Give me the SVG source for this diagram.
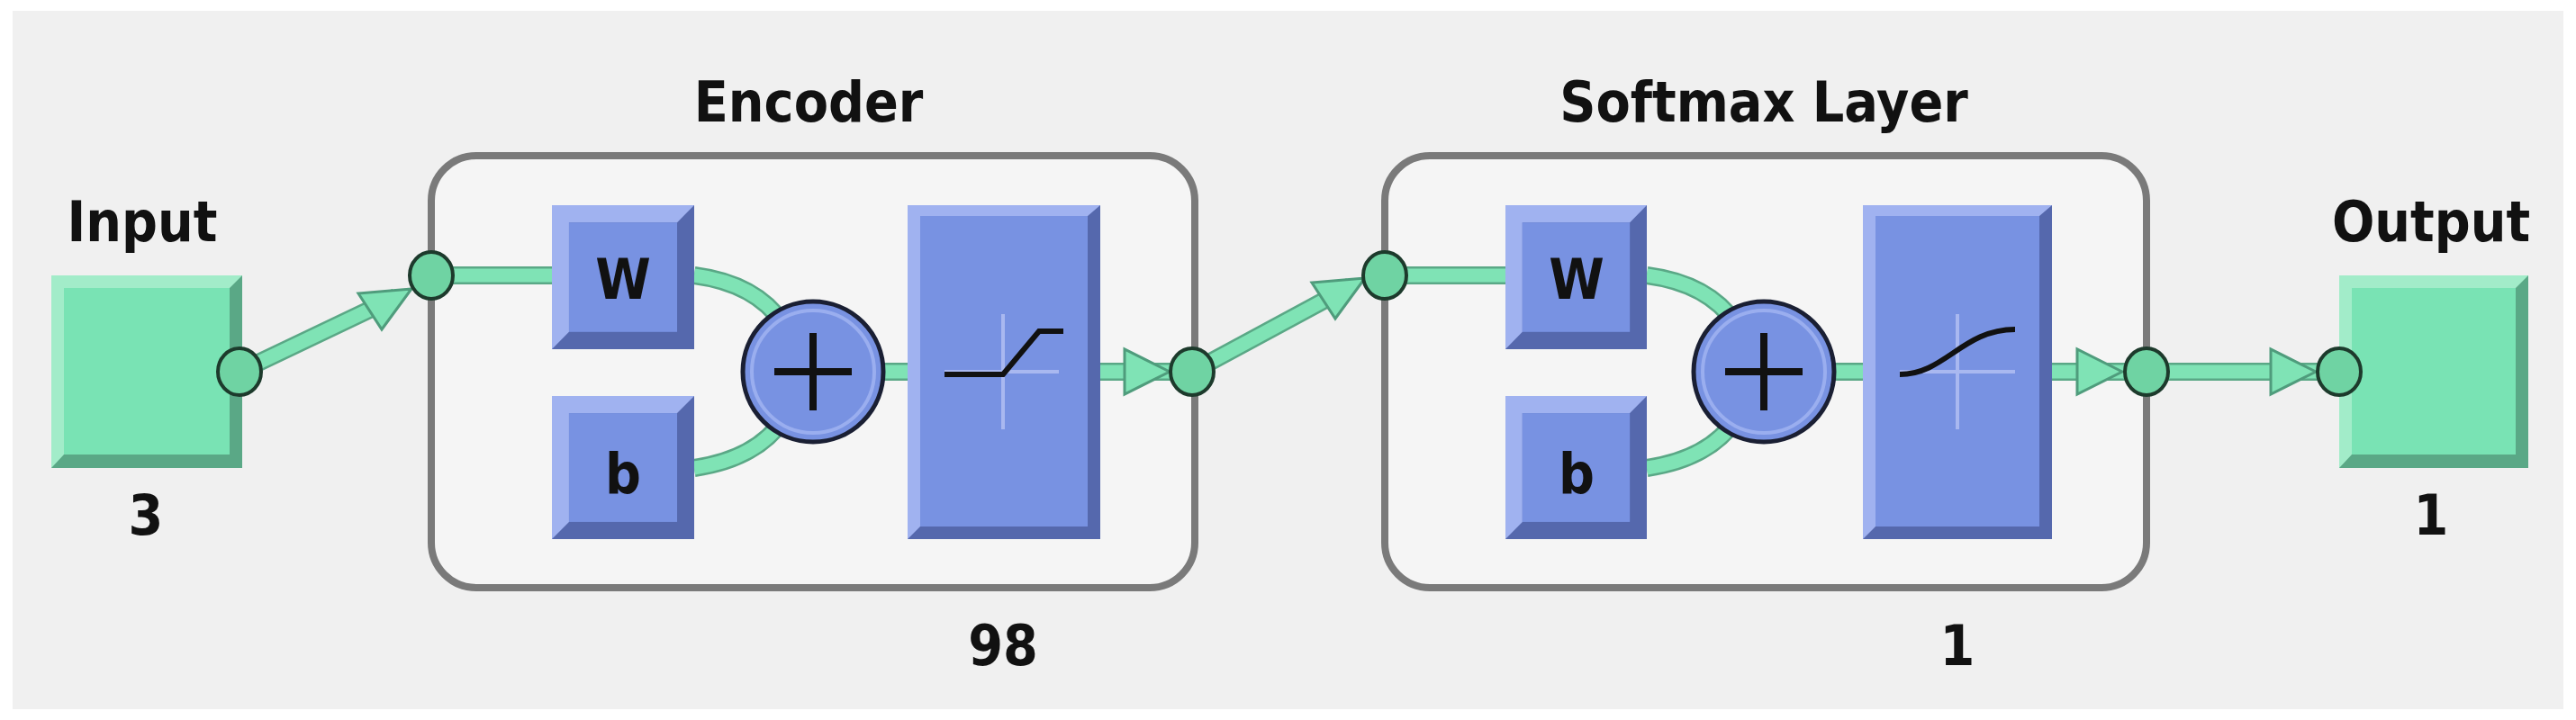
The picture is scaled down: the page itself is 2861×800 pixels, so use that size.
<svg xmlns="http://www.w3.org/2000/svg" width="2861" height="800" viewBox="0 0 2861 800">
<defs>
<style>
.t{font-family:"DejaVu Sans Condensed","DejaVu Sans",sans-serif;font-weight:bold;font-size:62px;fill:#111;text-anchor:middle}
.wire{fill:none;stroke:#5aa886;stroke-width:20;stroke-linecap:butt}
.wirei{fill:none;stroke:#7fe3b5;stroke-width:15}
.dot{fill:#6fd3a3;stroke:#1d3a2c;stroke-width:4}
.ah{fill:#7fe3b5;stroke:#4f9c7c;stroke-width:3}
.layer{fill:#f5f5f5;stroke:#7a7a7a;stroke-width:8}
.ax{stroke:#a9b8f0;stroke-width:4}
.cv{fill:none;stroke:#111;stroke-width:6}
</style>
<g id="bbox">
<rect x="0" y="0" width="100" height="100" fill="#5568ad"/>
<polygon points="0,0 100,0 88,12 12,12 12,88 0,100" fill="#a0b2f0"/>
<rect x="12" y="12" width="76" height="76" fill="#7892e2"/>
</g>
</defs>
<rect width="2861" height="800" fill="#ffffff"/>
<rect x="14" y="12" width="2833" height="776" fill="#f0f0f0"/>

<g id="input">
<rect x="57" y="306" width="212" height="214" fill="#5aa886"/>
<polygon points="57,306 269,306 255,320 71,320 71,505 57,520" fill="#a2ecc9"/>
<rect x="71" y="320" width="184" height="185" fill="#79e3b4"/>
<text class="t" x="158" y="268">Input</text>
<text class="t" x="162" y="594">3</text>
</g>

<g id="output">
<rect x="2598" y="306" width="210" height="214" fill="#5aa886"/>
<polygon points="2598,306 2808,306 2794,320 2612,320 2612,505 2598,520" fill="#a2ecc9"/>
<rect x="2612" y="320" width="182" height="185" fill="#79e3b4"/>
<text class="t" x="2700" y="268">Output</text>
<text class="t" x="2700" y="594">1</text>
</g>

<g id="encoder">
<rect class="layer" x="479" y="173" width="848" height="480" rx="50"/>
<text class="t" x="898" y="135">Encoder</text>
<text class="t" x="1114" y="739">98</text>
</g>
<g id="softmax">
<rect class="layer" x="1538" y="173" width="846" height="480" rx="50"/>
<text class="t" x="1959" y="135">Softmax Layer</text>
<text class="t" x="2174" y="739">1</text>
</g>

<g id="connectors">
<path class="wire" d="M266,413 L440,330 M479,306 L613,306 M771,306 Q840,315 870,360 M771,520 Q840,510 870,466 M980,413 L1008,413 M1222,413 L1324,413 L1500,318 M1538,306 L1672,306 M1829,306 Q1898,315 1928,360 M1829,520 Q1898,510 1928,466 M2036,413 L2069,413 M2279,413 L2598,413"/>
<path class="wirei" d="M266,413 L440,330 M479,306 L613,306 M771,306 Q840,315 870,360 M771,520 Q840,510 870,466 M980,413 L1008,413 M1222,413 L1324,413 L1500,318 M1538,306 L1672,306 M1829,306 Q1898,315 1928,360 M1829,520 Q1898,510 1928,466 M2036,413 L2069,413 M2279,413 L2598,413"/>
<polygon class="ah" points="457,321 398,326 424,366"/>
<polygon class="ah" points="1516,309 1457,314 1483,354"/>
<polygon class="ah" points="1299,413 1249,388 1249,438"/>
<polygon class="ah" points="2357,413 2307,388 2307,438"/>
<polygon class="ah" points="2572,413 2522,388 2522,438"/>
</g>

<g id="enc-w"><use href="#bbox" transform="translate(613,228) scale(1.58,1.6)"/><text class="t" x="692" y="332">W</text></g>
<g id="enc-b"><use href="#bbox" transform="translate(613,440) scale(1.58,1.59)"/><text class="t" x="692" y="548">b</text></g>
<g id="enc-sum"><circle cx="903" cy="413" r="78" fill="#7892e2" stroke="#1a1f33" stroke-width="5"/><circle cx="903" cy="413" r="68" fill="none" stroke="#9aaeef" stroke-width="4"/><path d="M903,370 V456 M860,413 H946" stroke="#111" stroke-width="8"/></g>
<g id="enc-tf"><rect x="1008" y="228" width="214" height="371" fill="#5568ad"/><polygon points="1008,228 1222,228 1208,240 1022,240 1022,585 1008,599" fill="#a0b2f0"/><rect x="1022" y="240" width="186" height="345" fill="#7892e2"/>
<path class="ax" d="M1114,349 V477 M1049,413 H1176"/><path class="cv" d="M1049,416 H1114 L1154,368 H1181"/></g>

<g id="sm-w"><use href="#bbox" transform="translate(1672,228) scale(1.57,1.6)"/><text class="t" x="1751" y="332">W</text></g>
<g id="sm-b"><use href="#bbox" transform="translate(1672,440) scale(1.57,1.59)"/><text class="t" x="1751" y="548">b</text></g>
<g id="sm-sum"><circle cx="1959" cy="413" r="78" fill="#7892e2" stroke="#1a1f33" stroke-width="5"/><circle cx="1959" cy="413" r="68" fill="none" stroke="#9aaeef" stroke-width="4"/><path d="M1959,370 V456 M1916,413 H2002" stroke="#111" stroke-width="8"/></g>
<g id="sm-tf"><rect x="2069" y="228" width="210" height="371" fill="#5568ad"/><polygon points="2069,228 2279,228 2265,240 2083,240 2083,585 2069,599" fill="#a0b2f0"/><rect x="2083" y="240" width="182" height="345" fill="#7892e2"/>
<path class="ax" d="M2174,349 V477 M2110,413 H2238"/><path class="cv" d="M2110,416 C2160,416 2180,366 2238,366"/></g>

<g id="dots">
<ellipse class="dot" cx="266" cy="413" rx="24" ry="26"/>
<ellipse class="dot" cx="479" cy="306" rx="24" ry="26"/>
<ellipse class="dot" cx="1324" cy="413" rx="24" ry="26"/>
<ellipse class="dot" cx="1538" cy="306" rx="24" ry="26"/>
<ellipse class="dot" cx="2384" cy="413" rx="24" ry="26"/>
<ellipse class="dot" cx="2598" cy="413" rx="24" ry="26"/>
</g>
</svg>
